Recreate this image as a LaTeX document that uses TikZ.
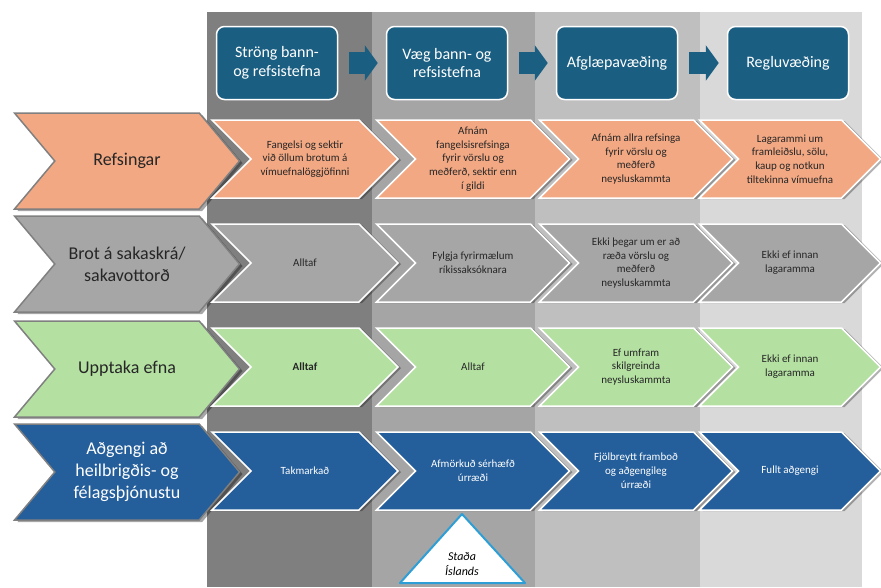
\documentclass[tikz,border=0pt]{standalone}
\usepackage{fontspec}
\setmainfont{Carlito}
\usetikzlibrary{shapes.symbols,shadows,arrows.meta,positioning}
\definecolor{hdblue}{RGB}{26,94,130}
\definecolor{salmon}{RGB}{242,168,131}
\definecolor{midgray}{RGB}{166,166,166}
\definecolor{lgreen}{RGB}{180,225,162}
\definecolor{dblue}{RGB}{36,94,155}
\definecolor{tricyan}{RGB}{46,159,214}
\definecolor{colA}{RGB}{127,127,127}
\definecolor{colB}{RGB}{165,165,165}
\definecolor{colC}{RGB}{191,191,191}
\definecolor{colD}{RGB}{217,217,217}

\begin{document}
\begin{tikzpicture}[x=1pt,y=-1pt,
chev/.style={signal,signal from=west,signal to=east,align=center,inner sep=0pt},
lab/.style={chev,signal pointer angle=100,minimum width=225pt,minimum height=96pt,
  draw=gray,line width=1.5pt,text=black!85,font=\fontsize{18}{22}\selectfont,
  drop shadow={shadow xshift=3pt,shadow yshift=-2pt,fill=black,opacity=.35}},
itm/.style={chev,minimum height=78pt,draw=white,line width=1.5pt,text=black!85,
  font=\fontsize{11}{13.8}\selectfont,
  drop shadow={shadow xshift=3pt,shadow yshift=-1pt,fill=black,opacity=.3}},
hd/.style={rounded corners=8pt,fill=hdblue,draw=white,line width=1.5pt,text=white,
  minimum width=121pt,minimum height=73pt,font=\fontsize{16}{18.5}\selectfont,align=center},
hdarrow/.style={hdblue,line width=22pt,shorten <=11pt,shorten >=8pt,
  -{Triangle[length=13pt,width=35pt]}}]
\useasboundingbox (0,0) rectangle (881,587);
\foreach \x/\xx/\c in {207/372/colA,372/535/colB,535/700/colC,700/862/colD}
  \fill[\c] (\x,12) rectangle (\xx,587);

\foreach \k/\xc/\txt in {1/277/{Ströng bann-\\og refsistefna},2/447/{Væg bann- og\\refsistefna},
  3/617/{Afglæpavæðing},4/788/{Regluvæðing}}
  \node[hd] (hd\k) at (\xc,63) {\txt};
\foreach \a/\b in {1/2,2/3,3/4}
  \draw[hdarrow] (hd\a) -- (hd\b);

\node[lab,fill=salmon] (lab1) at (127,161) {Refsingar};
\foreach \k/\xc/\w/\txt in {1/305/186/{Fangelsi og sektir\\við öllum brotum á\\vímuefnalöggjöfinni},
  2/473/193/{Afnám\\fangelsisrefsinga\\fyrir vörslu og\\meðferð, sektir enn\\í gildi},
  3/636/193/{Afnám allra refsinga\\fyrir vörslu og\\meðferð\\neysluskammta},
  4/790/181/{Lagarammi um\\framleiðslu, sölu,\\kaup og notkun\\tiltekinna vímuefna}}
  \node[itm,fill=salmon,minimum width=\w pt] (r1c\k) at (\xc,159) {\txt};

\node[lab,fill=midgray] (lab2) at (127,264) {Brot á sakaskrá/\\sakavottorð};
\foreach \k/\xc/\w/\txt in {1/305/186/{Alltaf},
  2/473/193/{Fylgja fyrirmælum\\ríkissaksóknara},
  3/636/193/{Ekki þegar um er að\\ræða vörslu og\\meðferð\\neysluskammta},
  4/790/181/{Ekki ef innan\\lagaramma}}
  \node[itm,fill=midgray,minimum width=\w pt] (r2c\k) at (\xc,263) {\txt};

\node[lab,fill=lgreen] (lab3) at (127,369) {Upptaka efna};
\foreach \k/\xc/\w/\txt in {1/305/186/{\bfseries Alltaf},
  2/473/193/{Alltaf},
  3/636/193/{Ef umfram\\skilgreinda\\neysluskammta},
  4/790/181/{Ekki ef innan\\lagaramma}}
  \node[itm,fill=lgreen,minimum width=\w pt] (r3c\k) at (\xc,367) {\txt};

\node[lab,fill=dblue,text=white] (lab4) at (127,472) {Aðgengi að\\heilbrigðis- og\\félagsþjónustu};
\foreach \k/\xc/\w/\txt in {1/305/186/{Takmarkað},
  2/473/193/{Afmörkuð sérhæfð\\úrræði},
  3/636/193/{Fjölbreytt framboð\\og aðgengileg\\úrræði},
  4/790/181/{Fullt aðgengi}}
  \node[itm,fill=dblue,text=white,minimum width=\w pt] (r4c\k) at (\xc,471) {\txt};

\draw[tricyan,fill=white,line width=2pt,line join=round] (462,514) -- (400,583) -- (525,583) -- cycle;
\node[font=\itshape\fontsize{12}{15}\selectfont,align=center] (stada) at (462,564) {Staða\\Íslands};
\end{tikzpicture}
\end{document}
